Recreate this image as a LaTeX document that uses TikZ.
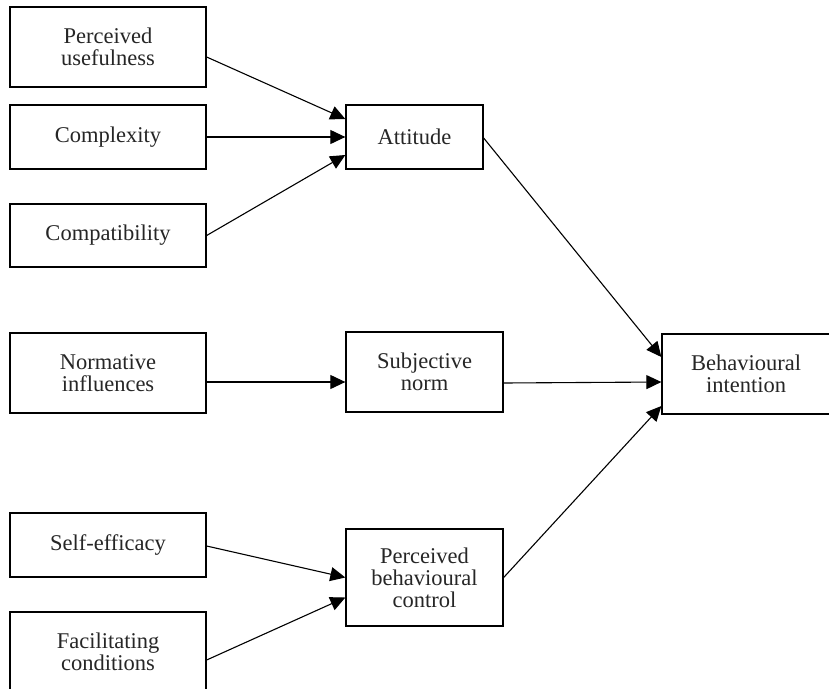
\documentclass[tikz,border=0pt]{standalone}
\usepackage{fontspec}
\setmainfont{Liberation Serif}
\usetikzlibrary{arrows.meta,calc}

\tikzset{
  box/.style={draw=black, line width=1.3pt, fill=white, align=center,
    inner sep=2pt, text=black!85,
    font=\fontsize{22.5}{22}\selectfont},
  link/.style={draw=black, line width=1.1pt,
    -{Triangle[length=15pt,width=14pt]}, shorten >=0pt}
}

\begin{document}
\begin{tikzpicture}[x=1pt, y=-1pt]
  \useasboundingbox (0,0) rectangle (829,688);
  \clip (0,0) rectangle (829,688);

  % antecedent factors
  \node[box, minimum width=196pt, minimum height=80pt] (pu) at (108,47)
    {Perceived\\usefulness};
  \node[box, minimum width=196pt, minimum height=64pt] (cx) at (108,137)
    {Complexity};
  \node[box, minimum width=196pt, minimum height=63pt] (cp) at (108,235.5)
    {Compatibility};
  \node[box, minimum width=196pt, minimum height=80pt] (ni) at (108,373)
    {Normative\\influences};
  \node[box, minimum width=196pt, minimum height=64pt] (se) at (108,545)
    {Self-efficacy};
  \node[box, minimum width=196pt, minimum height=80pt] (fc) at (108,652)
    {Facilitating\\conditions};

  % mediating constructs
  \node[box, minimum width=137pt, minimum height=64pt] (att) at (414.5,137)
    {Attitude};
  \node[box, minimum width=157pt, minimum height=80pt] (sn) at (424.5,372)
    {Subjective\\norm};
  \node[box, minimum width=157pt, minimum height=97pt] (pbc) at (424.5,577.5)
    {Perceived\\behavioural\\control};

  % outcome
  \node[box, minimum width=168pt, minimum height=80pt] (bi) at (746,374)
    {Behavioural\\intention};

  % paths into attitude
  \draw[link] ($(pu.east)+(0,10)$) -- ($(att.west)+(0,-18)$);
  \draw[link] (cx.east) -- (att.west);
  \draw[link] (cp.east) -- ($(att.west)+(0,18)$);

  % path into subjective norm
  \draw[link] ($(ni.east)+(0,9)$) -- ($(sn.west)+(0,10)$);

  % paths into perceived behavioural control
  \draw[link] ($(se.east)+(0,1)$) -- (pbc.west);
  \draw[link] ($(fc.east)+(0,8)$) -- ($(pbc.west)+(0,20)$);

  % paths into behavioural intention
  \draw[link] ($(att.east)+(0,1)$) -- ($(bi.west)+(0,-17)$);
  \draw[link] ($(sn.east)+(0,11)$) -- ($(bi.west)+(0,8)$);
  \draw[link] (pbc.east) -- ($(bi.west)+(0,32)$);
\end{tikzpicture}
\end{document}
